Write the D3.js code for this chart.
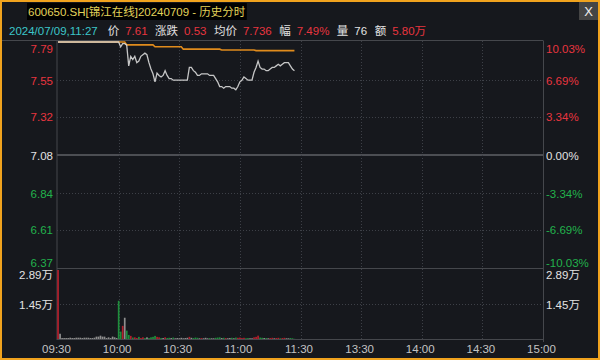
<!DOCTYPE html>
<html><head><meta charset="utf-8">
<script src="https://cdn.jsdelivr.net/npm/d3@7/dist/d3.min.js"></script>
<style>
html,body{margin:0;padding:0;background:#16181d;}
svg{display:block;}
text{font-family:"Liberation Sans","Noto Sans CJK SC",sans-serif;}
</style></head>
<body>
<svg id="c" width="600" height="360"></svg>
<script>
// ---------- data ----------
const titleText = "600650.SH[锦江在线]20240709 - 历史分时";
const infoTime = "2024/07/09,11:27";
const infoLabels = ["价","涨跌","均价","幅","量","额"];
const infoValues = ["7.61","0.53","7.736","7.49%","76","5.80万"];
const prevClose = 7.08;
const timeLabels = ["09:30","10:00","10:30","11:00","11:30","13:30","14:00","14:30","15:00"];
const timeTickMinutes = [0,30,60,90,120,150,180,210,240];
const priceTicks = [7.79,7.55,7.32,7.08,6.84,6.61,6.37];
const pctTicks = ["10.03%","6.69%","3.34%","0.00%","-3.34%","-6.69%","-10.03%"];
const volTicks = [28900,14500];
const volTickLabels = ["2.89万","1.45万"];
// one value per minute from 09:30 to 11:27
const prices = [
 7.79,7.79,7.79,7.79,7.79,7.79,7.79,7.79,7.79,7.79,
 7.79,7.79,7.79,7.79,7.79,7.79,7.79,7.79,7.79,7.79,
 7.79,7.79,7.79,7.79,7.79,7.79,7.79,7.79,7.79,7.79,
 7.79,7.76,7.78,7.78,7.77,7.64,7.70,7.68,7.70,7.66,
 7.67,7.70,7.71,7.72,7.71,7.66,7.62,7.59,7.54,7.595,
 7.58,7.57,7.58,7.61,7.58,7.56,7.56,7.55,7.55,7.55,
 7.55,7.55,7.55,7.55,7.55,7.63,7.63,7.61,7.60,7.58,
 7.58,7.59,7.59,7.59,7.59,7.58,7.58,7.58,7.56,7.54,
 7.51,7.51,7.50,7.51,7.51,7.51,7.50,7.50,7.49,7.51,
 7.54,7.55,7.57,7.56,7.55,7.55,7.55,7.60,7.63,7.67,
 7.63,7.62,7.62,7.61,7.61,7.62,7.63,7.63,7.64,7.65,
 7.64,7.65,7.66,7.66,7.66,7.64,7.62,7.61
];
const avgPrices = [
 7.79,7.79,7.79,7.79,7.79,7.79,7.79,7.79,7.79,7.79,
 7.79,7.79,7.79,7.79,7.79,7.79,7.79,7.79,7.79,7.79,
 7.79,7.79,7.79,7.79,7.79,7.79,7.79,7.79,7.79,7.79,
 7.79,7.79,7.79,7.79,7.772,7.772,7.772,7.772,7.772,7.772,
 7.772,7.772,7.772,7.772,7.772,7.772,7.772,7.772,7.760,7.760,
 7.760,7.760,7.760,7.760,7.760,7.760,7.760,7.760,7.760,7.760,
 7.760,7.760,7.745,7.745,7.745,7.745,7.745,7.745,7.745,7.745,
 7.745,7.745,7.745,7.745,7.745,7.745,7.745,7.745,7.745,7.745,
 7.745,7.740,7.740,7.740,7.740,7.740,7.740,7.740,7.740,7.740,
 7.740,7.740,7.740,7.740,7.740,7.740,7.740,7.740,7.736,7.736,
 7.736,7.736,7.736,7.736,7.736,7.736,7.736,7.736,7.736,7.736,
 7.736,7.736,7.736,7.736,7.736,7.736,7.736,7.736
];
const volumes = [
 28900,2200,400,400,400,400,550,400,400,550,
 550,550,400,550,550,550,400,400,550,1000,
 1000,1400,1000,1000,400,700,400,1000,700,400,
 16000,3100,5500,8900,3500,1700,1300,600,700,400,
 900,400,700,400,700,400,700,900,1300,900,
 700,400,400,700,400,500,400,600,300,400,
 300,500,300,400,500,900,500,400,600,500,
 300,400,300,500,300,400,300,300,500,600,
 700,400,500,400,300,400,500,300,600,500,
 600,400,500,300,400,300,300,700,900,1400,
 600,500,400,400,300,400,500,300,400,500,
 300,400,500,300,300,400,300,76
];
const volDirs = [
 "r","n","n","n","n","n","n","n","n","n",
 "n","n","n","n","n","n","n","n","n","n",
 "n","n","n","n","n","n","n","n","n","n",
 "g","g","r","n","g","g","r","g","r","r",
 "g","r","r","g","n","g","g","g","g","r",
 "r","g","n","r","g","g","n","g","n","n",
 "n","n","n","n","n","r","n","g","g","g",
 "n","r","n","n","n","g","n","n","g","g",
 "g","n","g","r","n","n","g","n","g","r",
 "r","r","r","g","g","n","n","r","r","r",
 "g","g","n","g","n","r","r","n","r","r",
 "g","r","r","n","n","g","g","g"
];

// ---------- layout ----------
const svg = d3.select("#c");
const X0 = 57, X1 = 543;
const PT = 42, PB = 268, VT = 270, VB = 339;
const RED = "#e8353f", GREEN = "#22b24c", WHITE = "#e2e2e2";
const dirColor = {r:"#b2202d", g:"#1f8e3d", n:"#8e8e8e"};

const x = d3.scaleLinear().domain([0,240]).range([X0+1, X1]);
const yP = d3.scaleLinear().domain([d3.min(priceTicks), d3.max(priceTicks)]).range([PB, PT]);
const yV = d3.scaleLinear().domain([0, d3.max(volTicks)]).range([VB, VT]);

svg.append("rect").attr("width",600).attr("height",360).attr("fill","#16181d");

// header
const tg = svg.append("g");
const tbg = tg.append("rect").attr("fill","#000");
const tt = tg.append("text").attr("x",28).attr("y",16).attr("fill","#e3d35a")
  .attr("font-size","11.5px").text(titleText);
const tb = tt.node().getBBox();
tbg.attr("x",tb.x-1).attr("y",3).attr("width",tb.width+2).attr("height",17);

svg.append("rect").attr("x",579).attr("y",1).attr("width",19).attr("height",19).attr("fill","#454545");
svg.append("text").attr("x",588.5).attr("y",15.5).attr("text-anchor","middle")
  .attr("fill","#eee").attr("font-size","13px").text("X");

// info row
let cx = 9;
const info = svg.append("g").attr("font-size","11.5px");
const t0 = info.append("text").attr("x",cx).attr("y",35).attr("fill","#3cc6c9").text(infoTime);
cx += t0.node().getComputedTextLength() + 10;
infoLabels.forEach((lab,i)=>{
  const a = info.append("text").attr("x",cx).attr("y",35).attr("fill",WHITE).text(lab);
  cx += a.node().getComputedTextLength() + 6;
  const b = info.append("text").attr("x",cx).attr("y",35)
    .attr("fill", lab==="量" ? WHITE : RED).text(infoValues[i]);
  cx += b.node().getComputedTextLength() + 7.5;
});

// frame lines
const lines = svg.append("g").attr("stroke","#45474c").attr("fill","none");
lines.append("line").attr("x1",0).attr("x2",X1).attr("y1",40.5).attr("y2",40.5);
lines.append("line").attr("x1",X0).attr("x2",X0).attr("y1",40.5).attr("y2",VB+1);
lines.append("line").attr("x1",X1+0.5).attr("x2",X1+0.5).attr("y1",40.5).attr("y2",342);
lines.append("line").attr("x1",X0).attr("x2",X1).attr("y1",268.5).attr("y2",268.5);
lines.append("line").attr("x1",X0).attr("x2",X1).attr("y1",VB+0.5).attr("y2",VB+0.5);
lines.append("line").attr("x1",X0).attr("x2",X1).attr("y1",yP(prevClose)).attr("y2",yP(prevClose))
  .attr("stroke","#4c4e53").attr("stroke-width",2);

// dotted grid
const grid = svg.append("g").attr("stroke","#3d4047").attr("stroke-dasharray","1,2");
priceTicks.filter(d=>d!==prevClose && d!==d3.min(priceTicks) && d!==d3.max(priceTicks)).forEach(d=>{
  grid.append("line").attr("x1",X0).attr("x2",X1).attr("y1",Math.round(yP(d))+0.5).attr("y2",Math.round(yP(d))+0.5);
});
grid.append("line").attr("x1",X0).attr("x2",X1).attr("y1",Math.round(yV(volTicks[1]))+0.5).attr("y2",Math.round(yV(volTicks[1]))+0.5);
timeTickMinutes.slice(1,-1).forEach(m=>{
  const xx = Math.round(x(m))+0.5;
  grid.append("line").attr("x1",xx).attr("x2",xx).attr("y1",41).attr("y2",268);
  grid.append("line").attr("x1",xx).attr("x2",xx).attr("y1",269).attr("y2",VB);
});

// volume bars
svg.append("g").selectAll("rect").data(volumes).join("rect")
  .attr("x",(d,i)=>x(i)-0.8).attr("width",1.7)
  .attr("y",d=>yV(d)).attr("height",d=>VB-yV(d))
  .attr("fill",(d,i)=>dirColor[volDirs[i]]);

// avg line & price line
svg.append("path").datum(avgPrices)
  .attr("d", d3.line().x((d,i)=>x(i)).y(d=>yP(d)))
  .attr("fill","none").attr("stroke","#e08b1c").attr("stroke-width",1.6);
svg.append("path").datum(prices)
  .attr("d", d3.line().x((d,i)=>x(i)).y(d=>yP(d)))
  .attr("fill","none").attr("stroke","#dedede").attr("stroke-opacity",0.88).attr("stroke-width",1.3);

// axes
function styleAxis(g){ g.select(".domain").remove(); g.selectAll("line").remove();
  g.selectAll("text").attr("font-size","11.5px").attr("font-family",'"Liberation Sans","Noto Sans CJK SC",sans-serif'); }
const pc = d => d>prevClose ? RED : (d<prevClose ? GREEN : WHITE);

const gl = svg.append("g").attr("transform",`translate(${X0},0)`)
  .call(d3.axisLeft(yP).tickValues(priceTicks).tickSize(0).tickPadding(4).tickFormat(d3.format(".2f")));
styleAxis(gl);
gl.selectAll("text").attr("fill",d=>pc(d))
  .attr("dy",(d,i)=> i===0 ? "0.95em" : (i===priceTicks.length-1 ? "-0.1em" : "0.35em"));

const gr = svg.append("g").attr("transform",`translate(${X1},0)`)
  .call(d3.axisRight(yP).tickValues(priceTicks).tickSize(0).tickPadding(3).tickFormat((d,i)=>pctTicks[i]));
styleAxis(gr);
gr.selectAll("text").attr("fill",d=>pc(d))
  .attr("dy",(d,i)=> i===0 ? "0.95em" : (i===priceTicks.length-1 ? "-0.1em" : "0.35em"));

const gvl = svg.append("g").attr("transform",`translate(${X0},0)`)
  .call(d3.axisLeft(yV).tickValues(volTicks).tickSize(0).tickPadding(4).tickFormat((d,i)=>volTickLabels[i]));
styleAxis(gvl);
gvl.selectAll("text").attr("fill",WHITE).attr("dy",(d,i)=> i===0 ? "0.75em" : "0.35em");

const gvr = svg.append("g").attr("transform",`translate(${X1},0)`)
  .call(d3.axisRight(yV).tickValues(volTicks).tickSize(0).tickPadding(3).tickFormat((d,i)=>volTickLabels[i]));
styleAxis(gvr);
gvr.selectAll("text").attr("fill",WHITE).attr("dy",(d,i)=> i===0 ? "0.75em" : "0.35em");

const gb = svg.append("g").attr("transform",`translate(-2,${VB})`)
  .call(d3.axisBottom(x).tickValues(timeTickMinutes).tickSize(0).tickPadding(6).tickFormat((d,i)=>timeLabels[i]));
styleAxis(gb);
gb.selectAll("text").attr("fill","#c4c4c4");

// outer frame
svg.append("rect").attr("x",1).attr("y",1).attr("width",598).attr("height",358)
  .attr("fill","none").attr("stroke","#f0a31e").attr("stroke-width",2);
</script>
</body></html>
